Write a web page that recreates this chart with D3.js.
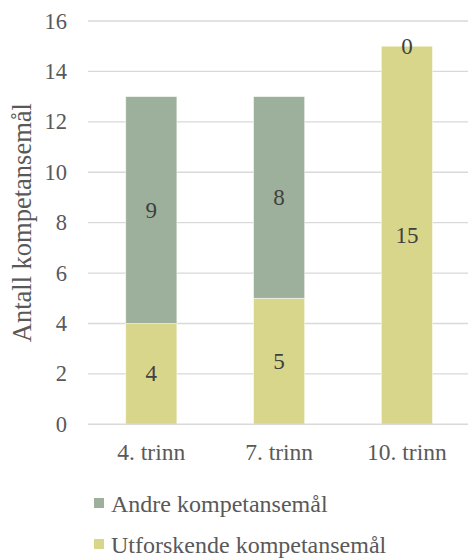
<!DOCTYPE html>
<html>
<head>
<meta charset="utf-8">
<script src="https://cdn.jsdelivr.net/npm/d3@7"></script>
<style>
  html, body { margin: 0; padding: 0; background: #fff; }
  svg { display: block; font-family: "Liberation Serif", "Times New Roman", serif; }
</style>
</head>
<body>
<svg id="chart" width="468" height="560"></svg>
<script>
// Competence aims per grade level
const grades = ["4. trinn", "7. trinn", "10. trinn"];
const utforskende = [4, 5, 15];
const andre = [9, 8, 0];
const seriesNames = ["Utforskende kompetansemål", "Andre kompetansemål"];
const seriesColors = ["#d8d68a", "#9db09b"];
const yTicks = [0, 2, 4, 6, 8, 10, 12, 14, 16];

const svg = d3.select("#chart");
const W = 468;

const rows = grades.map((g, i) => ({ grade: g, utforskende: utforskende[i], andre: andre[i] }));
const stack = d3.stack().keys(["utforskende", "andre"])(rows);

const x = d3.scaleBand().domain(grades).range([87.4, 470.8]).paddingInner(0.6).paddingOuter(0.3);
const y = d3.scaleLinear().domain([0, 16]).range([424.3, 21]);

// horizontal gridlines
svg.append("g").selectAll("line").data(yTicks.filter(d => d > 0)).join("line")
  .attr("x1", 88).attr("x2", W)
  .attr("y1", d => y(d)).attr("y2", d => y(d))
  .attr("stroke", "#d9d9d9").attr("stroke-width", 1.3);

// y tick labels
svg.append("g").selectAll("text").data(yTicks).join("text")
  .attr("x", 67).attr("y", d => y(d))
  .attr("text-anchor", "end").attr("dominant-baseline", "central")
  .attr("font-size", 22.5).attr("fill", "#595959")
  .text(d => d);

// stacked bars
const layers = svg.append("g").selectAll("g").data(stack).join("g")
  .attr("fill", (d, i) => seriesColors[i]);
layers.selectAll("rect").data(d => d).join("rect")
  .attr("x", d => x(d.data.grade))
  .attr("width", x.bandwidth())
  .attr("y", d => y(d[1]))
  .attr("height", d => y(d[0]) - y(d[1]))
  .attr("stroke", "#fff").attr("stroke-width", 0.8).attr("stroke-opacity", 0.6);

// bottom axis line
svg.append("line")
  .attr("x1", 88).attr("x2", W).attr("y1", y(0)).attr("y2", y(0))
  .attr("stroke", "#d9d9d9").attr("stroke-width", 1.6);

// value labels in the middle of each segment
stack.forEach(layer => {
  svg.append("g").selectAll("text").data(layer).join("text")
    .attr("x", d => x(d.data.grade) + x.bandwidth() / 2)
    .attr("y", d => y((d[0] + d[1]) / 2))
    .attr("text-anchor", "middle").attr("dominant-baseline", "central")
    .attr("font-size", 23).attr("fill", "#404040")
    .text(d => d[1] - d[0]);
});

// category labels
svg.append("g").selectAll("text").data(grades).join("text")
  .attr("x", d => x(d) + x.bandwidth() / 2).attr("y", 460)
  .attr("text-anchor", "middle")
  .attr("font-size", 23.5).attr("fill", "#595959")
  .text(d => d);

// y axis title
svg.append("text")
  .attr("transform", `translate(31, ${(y(0) + y(16)) / 2}) rotate(-90)`)
  .attr("text-anchor", "middle")
  .attr("font-size", 26.5).attr("fill", "#595959")
  .text("Antall kompetansemål");

// legend (Andre on top)
const legendItems = [1, 0];
const lg = svg.append("g").selectAll("g").data(legendItems).join("g")
  .attr("transform", (d, i) => `translate(94, ${512 + i * 41})`);
lg.append("rect").attr("x", 0).attr("y", -14).attr("width", 10).attr("height", 10)
  .attr("fill", d => seriesColors[d]);
lg.append("text").attr("x", 17).attr("y", 0)
  .attr("font-size", 24).attr("fill", "#595959")
  .text(d => seriesNames[d]);
</script>
</body>
</html>
